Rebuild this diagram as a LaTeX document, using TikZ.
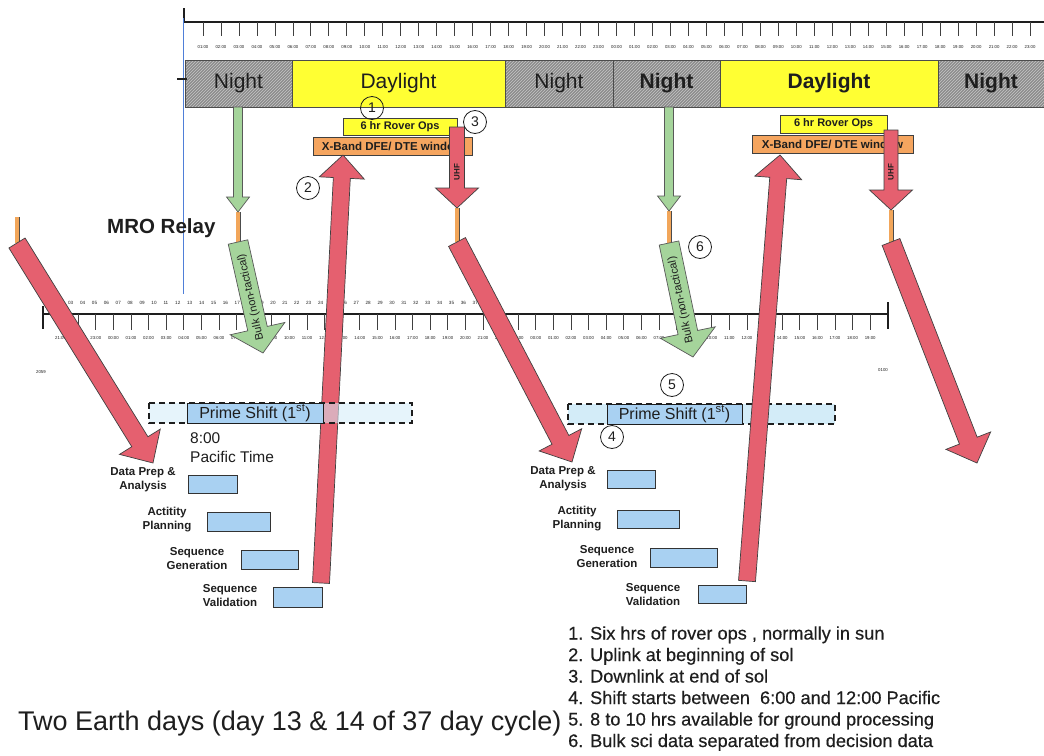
\documentclass[tikz,border=0pt]{standalone}
\usepackage{fontspec}
\setmainfont{Liberation Sans}
\newfontfamily\legfont{Liberation Sans}[FakeBold=0.4]
\usetikzlibrary{calc,patterns}

\definecolor{arrred}{HTML}{E5606F}
\definecolor{arrgreen}{HTML}{A5D49B}
\definecolor{linkorange}{HTML}{F2A65A}
\definecolor{dayyellow}{HTML}{FFFF33}
\definecolor{bandorange}{HTML}{F5A55F}
\definecolor{nightgray}{HTML}{8C8C8C}
\definecolor{taskblue}{HTML}{A9D1F2}
\definecolor{shiftpale}{HTML}{D3ECF8}
\definecolor{ink}{HTML}{1E1E1E}
\definecolor{relayblue}{HTML}{4F7FD8}

\newcommand\fsz[2]{\fontsize{#1pt}{#2pt}\selectfont}

% block arrow: [style]{start}{tip}{half shaft width}{half head width}{head length}
\newcommand\blockarrow[6][]{%
  \coordinate (bahead) at ($(#3)!#6!(#2)$);
  \draw[#1] ($(#2)!#4!90:(#3)$) -- ($(bahead)!#4!90:(#3)$) -- ($(bahead)!#5!90:(#3)$) -- (#3)
    -- ($(bahead)!#5!-90:(#3)$) -- ($(bahead)!#4!-90:(#3)$) -- ($(#2)!#4!-90:(#3)$) -- cycle;}

\tikzset{
  redarrow/.style={fill=arrred, draw=black!75, line width=0.7pt, line join=miter},
  greenarrow/.style={fill=arrgreen, draw=black!65, line width=0.7pt, line join=miter},
  linkbar/.style={draw=black!70, line width=0.7pt, double=linkorange, double distance=3.6pt},
  nightbar/.style={draw=black!70, line width=0.6pt, preaction={fill=nightgray},
    pattern=north east lines, pattern color=gray!45, minimum height=47pt, inner sep=0pt,
    text=ink, font=\fsz{21}{25}},
  daybar/.style={draw=black!70, line width=0.6pt, fill=dayyellow, minimum height=47pt,
    inner sep=0pt, text=ink, font=\fsz{21}{25}},
  opsbox/.style={draw=black!75, line width=0.7pt, fill=dayyellow, inner sep=0pt,
    minimum height=17pt, font=\bfseries\fsz{11}{12}, text=ink},
  bandbox/.style={draw=black!75, line width=0.7pt, fill=bandorange, inner sep=0pt,
    minimum height=18pt, font=\bfseries\fsz{11.5}{12}, text=ink},
  ticklab/.style={font=\fsz{4.3}{5}, text=ink, inner sep=0pt},
  taskbox/.style={draw=black!80, line width=0.9pt, fill=taskblue, inner sep=0pt, anchor=north west},
  tasklab/.style={align=center, font=\bfseries\fsz{11.5}{14}, text=ink, inner sep=0pt},
  numcircle/.style={circle, draw=ink, line width=0.8pt, minimum size=23pt, inner sep=0pt,
    font=\fsz{14}{14}, text=ink},
  bulklab/.style={font=\fsz{11}{12}, text=ink, inner sep=0pt},
  uhflab/.style={font=\bfseries\fsz{8}{8}, text=ink, inner sep=0pt, rotate=90},
  shiftout/.style={draw=ink, line width=1.4pt, dash pattern=on 6pt off 4pt, fill=shiftpale},
  shiftin/.style={draw=ink, line width=0.9pt, fill=taskblue, inner sep=0pt,
    minimum height=20pt, font=\fsz{16}{18}, text=ink},
  legline/.style={anchor=base west, inner sep=0pt, font=\legfont\fsz{18.2}{20}, text=ink},
}

\begin{document}
\begin{tikzpicture}[x=1pt,y=-1pt]
\useasboundingbox (0,0) rectangle (1044,755);
\fill[white] (0,0) rectangle (1044,755);

% ---------- upper time line (Mars local time)
\draw[ink, line width=2.6pt] (184,22) -- (1044,22);
\draw[ink, line width=1.2pt] (184,8) -- (184,23);
\foreach \k in {0,...,46}{
  \draw[ink!85, line width=0.8pt] ({203+17.98*\k},22) -- ({203+17.98*\k},36);
  \pgfmathtruncatemacro\hh{mod(\k+1,24)}
  \node[ticklab] (up\k) at ({203+17.98*\k},47) {\ifnum\hh<10 0\fi\hh:00};
}
\draw[relayblue, line width=1pt] (183,18) -- (183,294);

% day / night bars
\node[nightbar, minimum width=107pt] (n1) at (238.5,83.5) {Night};
\node[daybar, minimum width=213pt] (d1) at (398.5,83.5) {Daylight};
\node[nightbar, minimum width=108pt] (n2) at (559,83.5) {Night};
\node[nightbar, minimum width=107pt, font=\bfseries\fsz{21}{25}] (n3) at (666.5,83.5) {Night};
\node[daybar, minimum width=218pt, font=\bfseries\fsz{21}{25}] (d2) at (829,83.5) {Daylight};
\node[nightbar, minimum width=106pt, font=\bfseries\fsz{21}{25}] (n4) at (991,83.5) {Night};
\draw[ink, line width=1.4pt] (177,79) -- (187,79);

% ---------- lower time line (Earth time)
\draw[ink, line width=2.6pt] (43,314) -- (888,314);
\draw[ink, line width=1.2pt] (43,306) -- (43,329);
\draw[ink, line width=1.2pt] (888,302) -- (888,329);
\foreach \k in {1,...,47}{
  \draw[ink!85, line width=0.8pt] ({43+17.6*\k},314) -- ({43+17.6*\k},330);
  \pgfmathtruncatemacro\hh{mod(\k+20,24)}
  \node[ticklab] (lo\k) at ({43+17.6*\k},338) {\ifnum\hh<10 0\fi\hh:00};
}
\foreach \k in {1,...,37}{
  \node[ticklab, font=\fsz{4.6}{5}] (sol\k) at ({35+11.9*\k},303) {\ifnum\k<10 0\fi\k};
}
\node[ticklab] (dA) at (41,372) {2059};
\node[ticklab] (dB) at (883,370) {0100};

\node[anchor=base west, inner sep=0pt, font=\bfseries\fsz{20.5}{22}, text=ink] (mro) at (107,233) {MRO Relay};

% ---------- rover ops and X-band windows
\node[bandbox, minimum width=159pt] (xb1) at (392.5,146) {X-Band DFE/ DTE window};
\node[opsbox, minimum width=114pt] (ro1) at (400,126.5) {6 hr Rover Ops};
\node[bandbox, minimum width=161pt] (xb2) at (832.5,144) {X-Band DFE/ DTE window};
\node[opsbox, minimum width=107pt, minimum height=18pt] (ro2) at (833.5,124) {6 hr Rover Ops};

% ---------- arrow end points
\coordinate (g1s) at (238,107);  \coordinate (g1t) at (238,212);
\coordinate (b1s) at (238,242);  \coordinate (b1t) at (263,353);
\coordinate (g2s) at (669,107);  \coordinate (g2t) at (669,211);
\coordinate (b2s) at (669,243);  \coordinate (b2t) at (693,357);
\coordinate (u1s) at (457,127);  \coordinate (u1t) at (457,208);
\coordinate (r1s) at (457,242);  \coordinate (r1t) at (572,462);
\coordinate (u2s) at (891,130);  \coordinate (u2t) at (891,210);
\coordinate (r2s) at (891,242);  \coordinate (r2t) at (977,463);
\coordinate (l0s) at (17,217);   \coordinate (r0s) at (17,243);
\coordinate (r0t) at (153,463);
\coordinate (up1s) at (321,583); \coordinate (up1t) at (343,155);
\coordinate (up2s) at (747,581); \coordinate (up2t) at (780,155);

% relay links
\draw[linkbar] (g1t) -- (b1s);
\draw[linkbar] (g2t) -- (b2s);
\draw[linkbar] (u1t) -- (r1s);
\draw[linkbar] (u2t) -- (r2s);
\draw[linkbar] (l0s) -- (r0s);

% night-time relay passes
\blockarrow[greenarrow]{g1s}{g1t}{4.5pt}{11.5pt}{15pt}
\blockarrow[greenarrow]{g2s}{g2t}{4.5pt}{11.5pt}{15pt}

% second prime shift
\path[shiftout] (568,404) rectangle (835,424);
\node[shiftin, minimum width=135pt] (ps2) at (674.5,414) {Prime Shift (1\textsuperscript{st})};

% downlinks to ground
\blockarrow[redarrow]{r0s}{r0t}{9.5pt}{24pt}{25pt}
\blockarrow[redarrow]{r1s}{r1t}{9.5pt}{24pt}{25pt}
\blockarrow[redarrow]{r2s}{r2t}{9.5pt}{24pt}{24pt}

% UHF passes at end of sol
\blockarrow[redarrow]{u1s}{u1t}{7.5pt}{21.5pt}{20pt}
\blockarrow[redarrow]{u2s}{u2t}{7pt}{21.5pt}{20pt}
\node[uhflab] (uhf1) at (457,172) {UHF};
\node[uhflab] (uhf2) at (891,172) {UHF};

% uplinks at start of sol
\blockarrow[redarrow]{up1s}{up1t}{8.5pt}{22.5pt}{23pt}
\blockarrow[redarrow]{up2s}{up2t}{8.5pt}{23.5pt}{23pt}

% first prime shift, shown over the uplink
\path[shiftout, fill opacity=0.55] (149,403) rectangle (412,423);
\node[shiftin, minimum width=136pt] (ps1) at (255,413) {Prime Shift (1\textsuperscript{st})};

% bulk science data
\blockarrow[greenarrow]{b1s}{b1t}{10pt}{28pt}{25pt}
\blockarrow[greenarrow]{b2s}{b2t}{10pt}{28pt}{25pt}
\node[bulklab, rotate=102.6] (bk1) at (251,297) {Bulk (non-tactical)};
\node[bulklab, rotate=101.9] (bk2) at (681,300) {Bulk (non-tactical)};

% ---------- ground processing, first shift
\node[anchor=base west, inner sep=0pt, font=\fsz{15.5}{19}, text=ink] (t800) at (190,443.5) {8:00};
\node[anchor=base west, inner sep=0pt, font=\fsz{15.5}{19}, text=ink] (tpac) at (190,462.5) {Pacific Time};

\node[taskbox, minimum width=49pt, minimum height=18pt] (dp1) at (188,475) {};
\node[taskbox, minimum width=63pt, minimum height=19pt] (ap1) at (207,512) {};
\node[taskbox, minimum width=57pt, minimum height=19pt] (sg1) at (241,550) {};
\node[taskbox, minimum width=49pt, minimum height=20pt] (sv1) at (273,587) {};
\node[tasklab] (dp1l) at (143,480) {Data Prep \&\\Analysis};
\node[tasklab] (ap1l) at (167,520) {Actitity\\Planning};
\node[tasklab] (sg1l) at (197,558.5) {Sequence\\Generation};
\node[tasklab] (sv1l) at (230,596) {Sequence\\Validation};

% ---------- ground processing, second shift
\node[taskbox, minimum width=48pt, minimum height=18pt] (dp2) at (607,470) {};
\node[taskbox, minimum width=62pt, minimum height=18pt] (ap2) at (617,510) {};
\node[taskbox, minimum width=67pt, minimum height=19pt] (sg2) at (650,548) {};
\node[taskbox, minimum width=48pt, minimum height=18pt] (sv2) at (698,585) {};
\node[tasklab] (dp2l) at (563,479) {Data Prep \&\\Analysis};
\node[tasklab] (ap2l) at (577,518.5) {Actitity\\Planning};
\node[tasklab] (sg2l) at (607,556.5) {Sequence\\Generation};
\node[tasklab] (sv2l) at (653,594.5) {Sequence\\Validation};

% ---------- callouts
\node[numcircle] (c1) at (372,108) {1};
\node[numcircle] (c2) at (308,188) {2};
\node[numcircle] (c3) at (475,122) {3};
\node[numcircle] (c4) at (612,437) {4};
\node[numcircle] (c5) at (672,385) {5};
\node[numcircle] (c6) at (700,247) {6};

% ---------- notes
\node[legline] (lg1) at (568,639.5) {1. Six hrs of rover ops , normally in sun};
\node[legline] (lg2) at (568,661) {2. Uplink at beginning of sol};
\node[legline] (lg3) at (568,682.5) {3. Downlink at end of sol};
\node[legline] (lg4) at (568,704) {4. Shift starts between\ \ 6:00 and 12:00 Pacific};
\node[legline] (lg5) at (568,725.5) {5. 8 to 10 hrs available for ground processing};
\node[legline] (lg6) at (568,747) {6. Bulk sci data separated from decision data};

\node[anchor=base west, inner sep=0pt, font=\fsz{27}{30}, text=ink] (title) at (18,730) {Two Earth days (day 13 \& 14 of 37 day cycle)};
\end{tikzpicture}
\end{document}
